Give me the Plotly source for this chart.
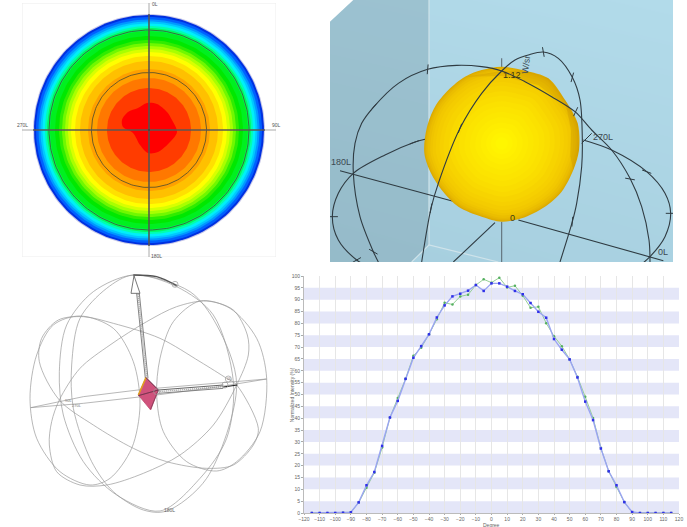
import plotly.graph_objects as go
import numpy as np

W, H = 687, 527

# ---- top left: intensity rings, radii in px, outer to inner
ring_radius = [116, 115, 113, 110.5, 108.5, 106.5, 104, 102, 99, 94, 90, 87, 84, 81, 78, 74, 69, 61, 52, 42]
ring_color = ['#c8c8e8', '#0030e0', '#0060ff', '#0098ff', '#00c8ff', '#00f0f8', '#00ffb0', '#00f860',
              '#00f020', '#00e800', '#30ec00', '#70f800', '#a8ff00', '#d8ff00', '#ffff00', '#ffe000',
              '#ffc000', '#ffa000', '#ff7800', '#ff3c00']
core_x = [147, 157, 167, 172, 177, 170, 158, 148, 140, 133, 123, 122, 128, 138]
core_y = [103, 104, 112, 120, 132, 142, 152, 153, 145, 133, 127, 120, 112, 108]
grid_radius = [100, 57.5]

# ---- top right: yellow solid and its wire arcs (read in 3x crop units)
solid_x = [530, 470, 420, 370, 330, 305, 298, 318, 350, 400, 470, 530, 590, 660, 710, 745, 762, 758, 720, 670, 600]
solid_y = [200, 210, 230, 270, 320, 385, 460, 520, 570, 620, 650, 665, 655, 620, 575, 510, 450, 370, 300, 235, 212]
solid_scale = [1, 0.985, 0.97, 0.95, 0.92, 0.89, 0.85, 0.8, 0.75, 0.68, 0.62, 0.55, 0.48, 0.41, 0.34, 0.27, 0.2, 0.14, 0.08]
solid_color = ['#dcaa00', '#e2b200', '#e7b800', '#ebbe00', '#efc400', '#f2c800', '#f4cc00', '#f6d000', '#f7d400', '#f9d900',
               '#fadd00', '#fbe100', '#fce400', '#fce700', '#fdea00', '#feed00', '#fff000', '#fff300', '#fff600']

arc_a_x = [160, 145, 105, 85, 90, 110, 145, 220, 308, 395, 470, 530, 600, 680, 750, 800, 860, 915, 950, 972, 975]
arc_a_y = [786, 755, 650, 520, 430, 370, 322, 250, 208, 196, 200, 213, 245, 290, 335, 390, 450, 535, 620, 720, 786]
arc_b_x = [290, 318, 340, 405, 470, 530, 570, 610, 655, 700, 742, 765, 772, 770, 755, 742, 705]
arc_b_y = [786, 625, 550, 385, 280, 213, 180, 165, 156, 175, 232, 300, 420, 500, 610, 665, 786]
arc_c_left_x = [300, 268, 180, 85, 40, 22, 40, 95, 130]
arc_c_left_y = [418, 427, 465, 520, 580, 650, 720, 780, 800]
arc_c_right_x = [775, 860, 965, 1020, 1037, 1020, 975, 940]
arc_c_right_y = [420, 450, 515, 580, 640, 710, 770, 800]
tick_x = [145, 308, 268, 24, 95, 145, 405, 318, 655, 742, 752, 742, 915, 965, 1037]
tick_y = [322, 208, 427, 650, 780, 755, 385, 625, 156, 232, 335, 665, 537, 515, 640]
tick_angle = [40, 5, 70, 90, 60, 120, 20, 10, 170, 15, 25, 5, 100, 110, 90]

# ---- bottom left: wire sphere (read in 3x crop units)
wire_curves = [
    ([400, 530, 640, 700, 680, 600, 480, 350, 250, 190, 178, 200, 280, 400],
     [30, 65, 150, 350, 520, 640, 738, 690, 590, 450, 320, 180, 80, 30]),
    ([400, 320, 240, 215, 220, 275, 340, 430, 500, 620, 710, 650, 570, 400],
     [30, 70, 160, 300, 430, 590, 680, 735, 738, 640, 360, 180, 80, 30]),
    ([240, 340, 400, 420, 395, 330, 270, 180, 110, 90, 110, 160, 240],
     [153, 190, 290, 420, 550, 640, 660, 620, 520, 400, 270, 180, 153]),
    ([600, 690, 770, 800, 780, 710, 650, 560, 490, 470, 480, 520, 600],
     [108, 130, 220, 340, 500, 590, 618, 590, 500, 390, 280, 170, 108]),
    ([178, 118, 125, 175, 250, 340, 480, 600, 680, 710, 775, 760, 700, 620, 500, 400, 280, 178],
     [405, 290, 220, 165, 155, 175, 220, 290, 340, 360, 490, 540, 600, 610, 590, 550, 480, 405]),
    ([178, 240, 330, 440, 530, 620, 700, 742, 745, 710, 640, 540, 430, 320, 240, 170, 148, 155, 178],
     [405, 310, 240, 170, 125, 108, 135, 210, 270, 360, 480, 570, 625, 660, 660, 620, 540, 470, 405]),
]
equator_x = [92, 250, 430, 800, 660, 470, 250, 92]
equator_y = [428, 395, 373, 342, 365, 390, 415, 428]
diamond_x = [438, 475, 452, 415]
diamond_y = [338, 375, 435, 390]

# ---- bottom right: normalized intensity against degree
degree = [-115, -110, -105, -100, -95, -90, -85, -80, -75, -70, -65, -60, -55, -50, -45, -40, -35, -30, -25, -20,
          -15, -10, -5, 0, 5, 10, 15, 20, 25, 30, 35, 40, 45, 50, 55, 60, 65, 70, 75, 80, 85, 90, 95, 100, 105, 110, 115]
intensity_blue = [0, 0, 0, 0, 0.1, 0.3, 4.5, 11.7, 17.3, 28.3, 40.3, 47.3, 56.6, 65.5, 70.4, 75.4, 82.5, 87.6, 91.4, 92.5,
                  93.8, 96.2, 93.7, 96.9, 96.9, 95.5, 93.7, 92.3, 88.6, 84.9, 82.4, 73.4, 68.9, 64.8, 57.2, 47, 39.2, 27.2,
                  17.6, 11.7, 4.6, 0.4, 0, 0, 0, 0, 0]
intensity_green = [0, 0, 0, 0, 0.1, 0.3, 4.4, 10.7, 17, 27.6, 40.3, 48.5, 56.6, 66.3, 69.7, 75.4, 81.7, 88.7, 88, 91.4,
                   92.1, 96.2, 98.6, 97.2, 99.3, 95.2, 95.9, 91.7, 86.6, 87, 80.1, 74.6, 70.4, 64.8, 57.5, 49, 40.1, 27.5,
                   17.6, 11, 4.6, 0.3, 0, 0, 0, 0, 0]
band_start = [0, 10, 20, 30, 40, 50, 60, 70, 80, 90]
x_ticks = [-120, -110, -100, -90, -80, -70, -60, -50, -40, -30, -20, -10, 0, 10, 20, 30, 40, 50, 60, 70, 80, 90, 100, 110, 120]
y_ticks = list(range(0, 105, 5))

FONT = 'Liberation Sans'


def hide(x0, x1, y0, y1, xr, yr):
    # axes in px of the page, no ticks
    return (dict(domain=[x0 / W, x1 / W], range=xr, visible=False, fixedrange=True),
            dict(domain=[1 - y1 / H, 1 - y0 / H], range=yr, visible=False, fixedrange=True))


fig = go.Figure()


def path(x, y, xa, ya, color, width=1.0, smooth=False, fill=None, dash=None):
    line = dict(color=color, width=width)
    if smooth:
        line.update(shape='spline', smoothing=0.9)
    if dash:
        line.update(dash=dash)
    fig.add_trace(go.Scatter(x=x, y=y, xaxis=xa, yaxis=ya, mode='lines', line=line,
                             fill='toself' if fill else None, fillcolor=fill,
                             hoverinfo='skip', showlegend=False))


# panel 1
theta = np.linspace(0, 2 * np.pi, 181)
cx, cy = 149, 130
path([22, 276, 276, 22, 22], [3, 3, 257, 257, 3], 'x', 'y', '#ececec', 1)
for r, c in zip(ring_radius, ring_color):
    path(cx + r * np.cos(theta), cy + r * np.sin(theta), 'x', 'y', c, 0, fill=c)
path(core_x + core_x[:1], core_y + core_y[:1], 'x', 'y', '#ff0000', 0, smooth=True, fill='#ff0000')
for r in grid_radius:
    path(cx + r * np.cos(theta), cy + r * np.sin(theta), 'x', 'y', '#4a4a30', 0.8)
path([22, 276], [cy, cy], 'x', 'y', '#aaaaaa', 1)
path([cx, cx], [3, 257], 'x', 'y', '#aaaaaa', 1)
path([cx - 116, cx + 116], [cy, cy], 'x', 'y', '#33302a', 1.1)
path([cx, cx], [cy - 116, cy + 116], 'x', 'y', '#33302a', 1.1)

# panel 2
fig.add_trace(go.Heatmap(x=[15, 1044], y=[0, 786], z=[[0.85, 1], [0.3, 0.5]], xaxis='x2', yaxis='y2',
                         zsmooth='best', showscale=False, hoverinfo='skip',
                         colorscale=[[0, '#a6cede'], [1, '#b2dbea']]))
path([15, 85, 15, 15], [0, 0, 65, 0], 'x2', 'y2', '#ffffff', 0, fill='#ffffff')
path([15, 85, 312, 312, 260, 15, 15], [65, 0, 0, 735, 786, 786, 65], 'x2', 'y2', '#c8dce4', 0, fill='rgba(115,145,160,0.32)')
path([312, 312], [0, 735], 'x2', 'y2', '#cfe3ea', 1.2)
path([260, 312, 520], [786, 735, 786], 'x2', 'y2', '#cfe3ea', 1.2)
path([45, 390], [512, 605], 'x2', 'y2', '#2f3b42', 1.1)
path([580, 1015], [660, 782], 'x2', 'y2', '#2f3b42', 1.1)
path([510, 385], [668, 786], 'x2', 'y2', '#2f3b42', 1.1)
path([530, 530], [665, 786], 'x2', 'y2', '#5f6f78', 1.1)
path([530, 530], [175, 215], 'x2', 'y2', '#5f6f78', 1.1)
sx, sy = np.array(solid_x + solid_x[:1]), np.array(solid_y + solid_y[:1])
for s, c in zip(solid_scale, solid_color):
    path(530 + (sx - 530) * s, 430 + (sy - 430) * s, 'x2', 'y2', c, 0, smooth=True, fill=c)
path([420, 530, 600, 670, 720, 745, 640, 530, 420], [230, 213, 212, 235, 300, 335, 255, 228, 230], 'x2', 'y2',
     '#c89400', 0, fill='rgba(190,135,0,0.25)')
path([720, 758, 762, 745, 736, 738], [300, 370, 450, 510, 470, 390], 'x2', 'y2', '#c89400', 0, fill='rgba(190,135,0,0.28)')
path(arc_a_x, arc_a_y, 'x2', 'y2', '#2f3b42', 1.1, smooth=True)
path(arc_b_x, arc_b_y, 'x2', 'y2', '#2f3b42', 1.1, smooth=True)
path(arc_c_left_x, arc_c_left_y, 'x2', 'y2', '#2f3b42', 1.1, smooth=True)
path(arc_c_right_x, arc_c_right_y, 'x2', 'y2', '#2f3b42', 1.1, smooth=True)
path([770, 800], [430, 400], 'x2', 'y2', '#2f3b42', 1)
fig.add_trace(go.Scatter(x=tick_x, y=tick_y, xaxis='x2', yaxis='y2', mode='markers', hoverinfo='skip', showlegend=False,
                         marker=dict(symbol='line-ns', size=7, angle=tick_angle, line=dict(color='#2f3b42', width=1))))

# panel 3
for wx, wy in wire_curves:
    path(wx, wy, 'x3', 'y3', '#9a9a9a', 0.7, smooth=True)
path(equator_x, equator_y, 'x3', 'y3', '#9a9a9a', 0.7)
path([400, 470, 530], [30, 35, 62], 'x3', 'y3', '#555555', 1.4, smooth=True)
path([436, 410], [340, 85], 'x3', 'y3', '#666666', 0.8)
path([444, 418], [340, 85], 'x3', 'y3', '#666666', 0.8)
path([440, 414], [340, 85], 'x3', 'y3', '#999999', 1.6, dash='1px,1px')
path(diamond_x + diamond_x[:1], diamond_y + diamond_y[:1], 'x3', 'y3', '#c04a70', 0.8, fill='#d0527c')
path([438, 415], [338, 390], 'x3', 'y3', '#e0a020', 1.6)
path([475, 438, 475, 415, 475, 452], [375, 338, 375, 392, 375, 432], 'x3', 'y3', '#6a3048', 0.6)
path([402, 393, 420, 402], [32, 85, 85, 32], 'x3', 'y3', '#555555', 0.8, fill='#ffffff')
path([475, 670], [375, 360], 'x3', 'y3', '#555555', 0.9)
path([475, 670], [385, 370], 'x3', 'y3', '#777777', 0.9)
path([475, 670], [380, 365], 'x3', 'y3', '#999999', 1.4, dash='1px,1px')
path([670, 712], [366, 360], 'x3', 'y3', '#222222', 1.2)
fig.add_trace(go.Scatter(x=[525, 675, 685, 470], y=[58, 360, 342, 380], xaxis='x3', yaxis='y3', mode='markers',
                         hoverinfo='skip', showlegend=False,
                         marker=dict(symbol='circle-open', size=6, color='#999999', line=dict(width=0.7))))

# panel 4
for b in band_start:
    fig.add_shape(type='rect', xref='x4 domain', yref='y4', x0=0, x1=1, y0=b, y1=b + 5,
                  fillcolor='#e4e6f8', line_width=0, layer='below')
fig.add_trace(go.Scatter(x=degree, y=intensity_green, xaxis='x4', yaxis='y4', mode='lines+markers',
                         line=dict(color='#96d096', width=1), marker=dict(color='#55b060', size=2.5),
                         hoverinfo='skip', showlegend=False))
fig.add_trace(go.Scatter(x=degree, y=intensity_blue, xaxis='x4', yaxis='y4', mode='lines+markers',
                         line=dict(color='#9aa4f2', width=1.4), marker=dict(color='#3030e8', size=2.5, symbol='square'),
                         hoverinfo='skip', showlegend=False))

xa1, ya1 = hide(22, 276, 3, 257, [22, 276], [257, 3])
xa2, ya2 = hide(330, 673, 0, 262, [15, 1044], [786, 0])
xa3, ya3 = hide(0, 290, 265, 527, [0, 870], [786, 0])
tick_font = dict(family=FONT, size=5, color='#666666')


def label(text, x, y, xa, ya, size=5, color='#555555', angle=0):
    fig.add_annotation(text=text, x=x, y=y, xref=xa, yref=ya, showarrow=False, textangle=angle,
                       xanchor='center', yanchor='middle', font=dict(family=FONT, size=size, color=color))


label('0L', 155, 4, 'x', 'y')
label('90L', 276, 125, 'x', 'y')
label('270L', 22, 125, 'x', 'y')
label('180L', 156, 256, 'x', 'y')
label('180L', 47, 485, 'x2', 'y2', 9, '#3c4a52')
label('270L', 833, 410, 'x2', 'y2', 9, '#3c4a52')
label('0L', 1015, 757, 'x2', 'y2', 9, '#3c4a52')
label('1.12', 562, 225, 'x2', 'y2', 9, '#3c3a10')
label('0', 562, 654, 'x2', 'y2', 9, '#3c3a10')
label('W/sr', 603, 195, 'x2', 'y2', 9, '#3c4a52', -82)
label('0L', 688, 340, 'x3', 'y3', 4, '#777777')
label('90L', 205, 405, 'x3', 'y3', 4, '#777777')
label('270L', 230, 422, 'x3', 'y3', 4, '#777777')
label('180L', 507, 735, 'x3', 'y3', 5, '#666666')
fig.add_annotation(text='Degree', x=0, y=0, xref='x4', yref='y4 domain', showarrow=False, yshift=-12,
                   xanchor='center', yanchor='middle', font=tick_font, borderpad=0)
fig.add_annotation(text='Normalized Intensity (%)', x=-0.033, y=0.5, xref='x4 domain', yref='y4 domain', showarrow=False,
                   textangle=-90, xanchor='center', yanchor='middle', font=tick_font, borderpad=0)

fig.update_layout(
    width=W, height=H, margin=dict(l=0, r=0, t=0, b=0, pad=0), paper_bgcolor='white', plot_bgcolor='rgba(0,0,0,0)',
    xaxis=xa1, yaxis=ya1,
    xaxis2=xa2, yaxis2=ya2,
    xaxis3=xa3, yaxis3=ya3,
    xaxis4=dict(domain=[304 / W, 679 / W], range=[-120, 120], tickvals=x_ticks, tickfont=tick_font, ticks='outside',
                ticklen=1, tickcolor='#aaaaaa', gridcolor='#e6e6e6', showline=True, linecolor='#bbbbbb',
                zeroline=False, fixedrange=True, tickangle=0, anchor='y4', automargin=False),
    yaxis4=dict(domain=[1 - 513 / H, 1 - 276 / H], range=[0, 100], tickvals=y_ticks, tickfont=tick_font, ticks='outside',
                ticklen=2, tickcolor='#aaaaaa', showgrid=False, showline=True, linecolor='#bbbbbb',
                zeroline=False, fixedrange=True, anchor='x4', automargin=False),
    showlegend=False,
)

# the default page keeps the 8px body margin, which would push everything off
fig.write_html("out.html", post_script="document.body.style.margin='0'", config={'displayModeBar': False})
